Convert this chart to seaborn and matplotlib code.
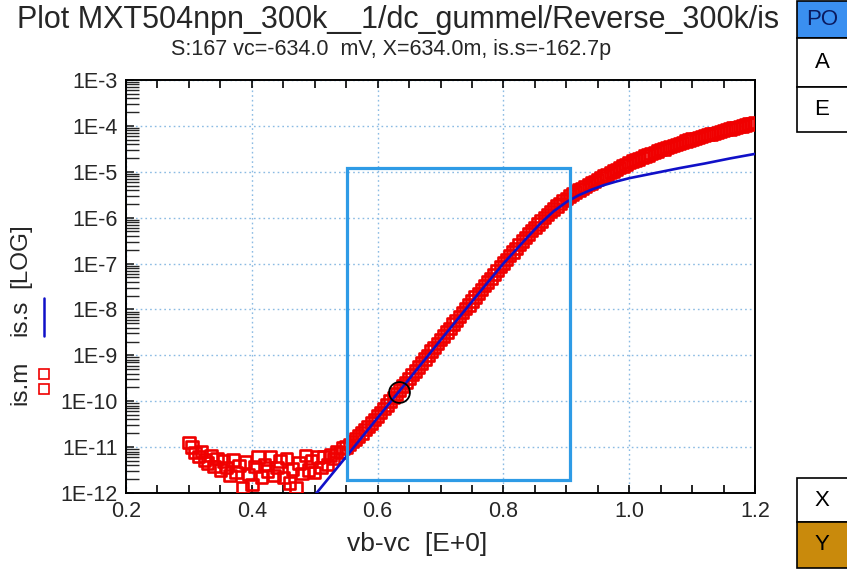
import numpy as np
import pandas as pd
import matplotlib
matplotlib.use("Agg")
import matplotlib.pyplot as plt
import seaborn as sns
from matplotlib.patches import Rectangle
from matplotlib.lines import Line2D
from matplotlib.ticker import FixedLocator, FuncFormatter, LogLocator, NullFormatter, MultipleLocator

# ---------------- data ----------------
# measured is.m : vb-vc sweep 0.300 .. 1.200 V, step 5 mV ; values given as log10(A)
vb_start, vb_stop, vb_step = 0.300, 1.200, 0.005
is_m_exp = [
    -10.90, -11.00, -11.12, -11.20, -11.10, -11.28, -11.35, -11.18, -11.42, -11.25,
    -11.50, -11.30, -11.45, -11.62, -11.28, -11.55, -11.40, -11.88, -11.32, -11.60,
    -11.82, -11.42, -11.22, -11.65, -11.38, -11.52, -11.20, -11.62, -11.45, -11.30,
    -11.66, -11.25, -11.78, -11.48, -11.88, -11.35, -11.58, -11.18, -11.50, -11.30,
    -11.55, -11.22, -11.45, -11.20, -11.38, -11.17, -11.25, -11.10, -11.12, -11.02,
    -11.00, -10.94, -10.88, -10.82, -10.76, -10.69, -10.62, -10.55, -10.47, -10.40,
    -10.32, -10.24, -10.16, -10.08, -10.00, -9.92, -9.84, -9.76, -9.67, -9.59,
    -9.51, -9.42, -9.34, -9.25, -9.17, -9.08, -9.00, -8.91, -8.83, -8.74,
    -8.66, -8.58, -8.49, -8.41, -8.32, -8.24, -8.15, -8.07, -7.98, -7.90,
    -7.82, -7.73, -7.65, -7.57, -7.48, -7.40, -7.32, -7.24, -7.15, -7.07,
    -6.99, -6.91, -6.83, -6.75, -6.67, -6.59, -6.51, -6.43, -6.36, -6.28,
    -6.21, -6.14, -6.07, -6.00, -5.93, -5.87, -5.81, -5.75, -5.69, -5.63,
    -5.58, -5.53, -5.48, -5.44, -5.40, -5.36, -5.32, -5.28, -5.24, -5.21,
    -5.17, -5.13, -5.09, -5.06, -5.02, -4.98, -4.95, -4.91, -4.87, -4.84,
    -4.80, -4.77, -4.74, -4.72, -4.69, -4.66, -4.63, -4.60, -4.58, -4.55,
    -4.52, -4.50, -4.47, -4.45, -4.43, -4.40, -4.38, -4.36, -4.33, -4.31,
    -4.29, -4.27, -4.25, -4.23, -4.21, -4.19, -4.18, -4.16, -4.14, -4.12,
    -4.10, -4.08, -4.07, -4.05, -4.03, -4.01, -4.00, -3.98, -3.96, -3.95,
    -3.93,
]
vb_meas = np.round(vb_start + vb_step * np.arange(len(is_m_exp)), 3)

# simulated is.s
vb_sim = [0.50, 0.55, 0.60, 0.65, 0.70, 0.75, 0.78, 0.80, 0.82, 0.84, 0.86, 0.88,
          0.90, 0.92, 0.94, 0.96, 0.98, 1.00, 1.04, 1.08, 1.12, 1.16, 1.20]
is_s_exp = [-12.05, -11.21, -10.36, -9.52, -8.67, -7.83, -7.33, -7.00, -6.70, -6.40,
            -6.11, -5.86, -5.66, -5.51, -5.39, -5.29, -5.21, -5.14, -5.03, -4.92,
            -4.82, -4.71, -4.61]

# cursor and selection box
cursor_x, cursor_y = 0.634, 162.7e-12
box_x = [0.551, 0.906]
box_y = [1.93e-12, 1.2e-5]

x_ticks = [0.2, 0.4, 0.6, 0.8, 1.0, 1.2]
x_ticklabels = ["0.2", "0.4", "0.6", "0.8", "1.0", "1.2"]
y_decades = [-12, -11, -10, -9, -8, -7, -6, -5, -4, -3]

title = "Plot MXT504npn_300k__1/dc_gummel/Reverse_300k/is"
subtitle = "S:167 vc=-634.0  mV, X=634.0m, is.s=-162.7p"

df_m = pd.DataFrame({"vb": vb_meas, "i": 10.0 ** np.array(is_m_exp)})
df_s = pd.DataFrame({"vb": vb_sim, "i": 10.0 ** np.array(is_s_exp)})

# ---------------- style ----------------
sns.set_style("ticks")
plt.rcParams["font.family"] = ["Liberation Sans", "DejaVu Sans"]

W, H = 847, 571
fig = plt.figure(figsize=(W / 100, H / 100), dpi=100)
L, R, T, B = 126, 755, 80, 493
ax = fig.add_axes([L / W, 1 - B / H, (R - L) / W, (B - T) / H])

RED = "#f00000"
BLUE = "#1010c8"
LBLUE = "#2e9be6"

sns.scatterplot(data=df_m, x="vb", y="i", ax=ax, marker="s", s=68,
                facecolor="none", edgecolor=RED, linewidth=1.9, zorder=3, legend=False)
sns.lineplot(data=df_s, x="vb", y="i", ax=ax, color=BLUE, linewidth=1.9,
             zorder=4, legend=False, estimator=None)

ax.set_yscale("log")
ax.set_xlim(0.2, 1.2)
ax.set_ylim(1e-12, 1e-3)

ax.add_patch(Rectangle((box_x[0], box_y[0]), box_x[1] - box_x[0], box_y[1] - box_y[0],
                       fill=False, edgecolor=LBLUE, linewidth=2.3, zorder=5))
ax.plot([cursor_x], [cursor_y], marker="o", ms=15, mfc="none", mec="black",
        mew=1.3, zorder=6)

# ticks
ax.xaxis.set_major_locator(FixedLocator(x_ticks))
ax.set_xticklabels(x_ticklabels)
ax.xaxis.set_minor_locator(MultipleLocator(0.05))
ax.yaxis.set_major_locator(FixedLocator([10.0 ** d for d in y_decades]))
ax.yaxis.set_major_formatter(FuncFormatter(lambda v, p: "1E%d" % int(round(np.log10(v)))))
ax.yaxis.set_minor_locator(LogLocator(base=10, subs=np.arange(2, 10), numticks=100))
ax.yaxis.set_minor_formatter(NullFormatter())

ax.tick_params(axis="x", which="both", direction="in", top=True, bottom=True,
               length=6, width=1.2, color="black", labelsize=15.5, pad=6)
ax.tick_params(axis="y", which="major", direction="in", left=True, right=False,
               length=6, width=1.2, labelsize=15.5, pad=6)
ax.tick_params(axis="y", which="minor", direction="in", left=True, right=False,
               length=9, width=1.0)

ax.grid(True, which="major", color="#8bbbe3", linestyle=(0, (1.2, 2.2)), linewidth=1.0)
for sp in ax.spines.values():
    sp.set_linewidth(1.4)
    sp.set_color("black")

ax.set_xlabel("")
ax.set_ylabel("")

# titles
fig.text(398 / W, 1 - 20 / H, title, ha="center", va="center", fontsize=22)
fig.text(391 / W, 1 - 49 / H, subtitle, ha="center", va="center", fontsize=15.5)
fig.text(417 / W, 1 - 544 / H, "vb-vc  [E+0]", ha="center", va="center", fontsize=19)

# composite y label
fig.text(20 / W, 1 - 383 / H, "is.m", rotation=90, ha="center", va="center", fontsize=17.5)
fig.text(20 / W, 1 - 318 / H, "is.s", rotation=90, ha="center", va="center", fontsize=17.5)
fig.text(20 / W, 1 - 256 / H, "[LOG]", rotation=90, ha="center", va="center", fontsize=17.5)
for yy in (374, 389):
    fig.add_artist(Line2D([44 / W], [1 - yy / H], marker="s", ms=7, mfc="none",
                          mec=RED, mew=1.2, transform=fig.transFigure))
fig.add_artist(Line2D([44 / W, 44 / W], [1 - 298 / H, 1 - 336 / H], color=BLUE,
                      linewidth=1.8, transform=fig.transFigure))

# side buttons
def button(y0, y1, label, face):
    fig.add_artist(Rectangle((797 / W, 1 - y1 / H), 60 / W, (y1 - y0) / H,
                             facecolor=face, edgecolor="black", linewidth=1.2,
                             transform=fig.transFigure))
    fig.text(822 / W, 1 - (y0 + y1) / 2 / H, label, ha="center", va="center",
             fontsize=16, color="black" if label != "PO" else "#0a1a60")

button(1, 38, "PO", "#3a8ff0")
button(38, 87, "A", "white")
button(87, 132, "E", "white")
button(478, 522, "X", "white")
button(522, 568, "Y", "#c98a0c")

fig.savefig("out.png", dpi=100)
